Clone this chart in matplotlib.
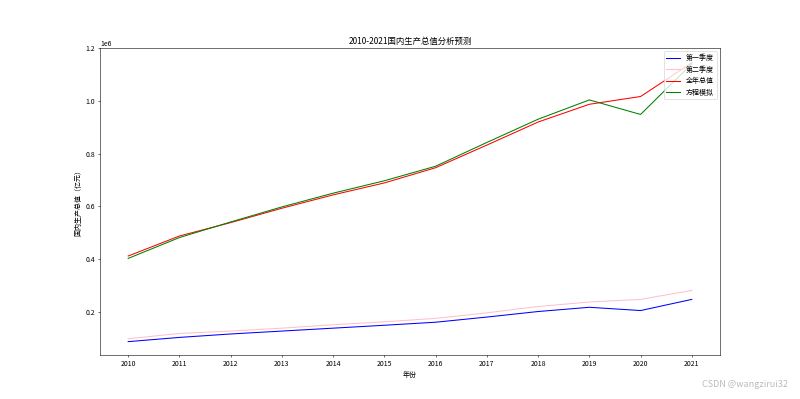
import numpy as np
import matplotlib
matplotlib.use("Agg")
import matplotlib.pyplot as plt

plt.rcParams['font.family'] = ['Noto Sans CJK SC', 'DejaVu Sans']
plt.rcParams['axes.unicode_minus'] = False

years = [2010, 2011, 2012, 2013, 2014, 2015, 2016, 2017, 2018, 2019, 2020, 2021]
q1 = [88000, 104000, 117000, 128000, 139000, 150000, 161500, 181000, 202000, 218000, 205700, 247900]
q2 = [99000, 119000, 128000, 139000, 152000, 163000, 176000, 197000, 221000, 238000, 248000, 282000]
total = [412119, 487940, 538580, 592963, 643563, 688858, 746395, 832036, 919281, 986515, 1015986, 1143670]
fit = [403000, 482000, 541000, 598000, 650000, 697000, 752000, 842000, 930000, 1003000, 948000, 1140000]

fig = plt.figure(figsize=(16, 7.98), dpi=50)
plt.plot(years, q1, color="blue", label="第一季度")
plt.plot(years, q2, color="pink", label="第二季度")
plt.plot(years, total, color="red", label="全年总值")
plt.plot(years, fit, color="green", label="方程模拟")
plt.xticks(years)
plt.ylim(37000, 1200000)
plt.xlabel("年份")
plt.ylabel("国内生产总值（亿元）")
plt.title("2010-2021国内生产总值分析预测")
plt.legend(loc="upper right")

fig.text(0.985, 0.025, "CSDN @wangzirui32", ha="right", va="bottom",
         color="#bbbbbb", fontsize=13)

plt.savefig("out.png", dpi=50)
